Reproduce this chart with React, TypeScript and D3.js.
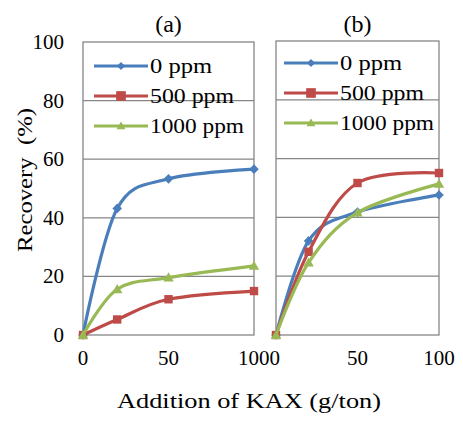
import React from "react";
import * as d3 from "d3";

const xValues = [0, 20, 50, 100];
const seriesNames = ["0 ppm", "500 ppm", "1000 ppm"];
const panelA0 = [0, 43.2, 53.3, 56.6];
const panelA500 = [0, 5.3, 12.2, 15.0];
const panelA1000 = [0, 15.6, 19.6, 23.6];
const panelB0 = [0, 32.0, 41.8, 47.6];
const panelB500 = [0, 28.3, 51.7, 55.1];
const panelB1000 = [0, 24.6, 41.6, 51.4];
const yTicks = [0, 20, 40, 60, 80, 100];
const xTicksA = [0, 50];
const xTicksB = [50, 100];
const colors = ["#4A7EBB", "#BE4B48", "#98B954"];
const markers = ["diamond", "square", "triangle"];
const legendWidths = [62, 84, 94];

const FS = { fontFamily: "Liberation Serif" };

function Marker({ type, x, y, color, s = 1 }: any) {
  if (type === "diamond") {
    const r = 4.8 * s;
    return <path d={`M${x},${y - r}L${x + r},${y}L${x},${y + r}L${x - r},${y}Z`} fill={color} />;
  }
  if (type === "square") {
    const r = 4.2 * s;
    return <rect x={x - r} y={y - r} width={2 * r} height={2 * r} fill={color} />;
  }
  const r = 5.2 * s;
  return <path d={`M${x},${y - r}L${x + r},${y + r * 0.75}L${x - r},${y + r * 0.75}Z`} fill={color} />;
}

function Panel({ x0, x1, yTop, title, data, ticks, legendX, legendY }: any) {
  const xs = d3.scaleLinear().domain([0, 100]).range([x0, x1]);
  const ys = d3.scaleLinear().domain([0, 100]).range([335, yTop]);
  const line = d3
    .line<number>()
    .x((_, i) => xs(xValues[i]))
    .y((d) => ys(d))
    .curve(d3.curveCardinal.tension(0));
  return (
    <g>
      {yTicks.slice(1, -1).map((t) => (
        <line key={t} x1={x0} x2={x1} y1={ys(t)} y2={ys(t)} stroke="#868686" strokeWidth={1.3} />
      ))}
      <rect x={x0} y={yTop} width={x1 - x0} height={335 - yTop} fill="none" stroke="#868686" strokeWidth={1.3} />
      <text x={(x0 + x1) / 2} y={32} textAnchor="middle" fontSize={24} style={FS}>
        {title}
      </text>
      {ticks.map((t: number) => (
        <text key={t} x={xs(t)} y={365} textAnchor="middle" fontSize={21} style={FS}>
          {t}
        </text>
      ))}
      {seriesNames.map((name, k) => (
        <g key={name}>
          <line x1={legendX} x2={legendX + 54} y1={legendY + k * 30} y2={legendY + k * 30} stroke={colors[k]} strokeWidth={3.2} />
          <Marker type={markers[k]} x={legendX + 27} y={legendY + k * 30} color={colors[k]} s={k === 1 ? 1.15 : 0.85} />
          <text
            x={legendX + 56}
            y={legendY + k * 30 + 7}
            fontSize={21}
            style={FS}
            textLength={legendWidths[k]}
            lengthAdjust="spacingAndGlyphs"
          >
            {name}
          </text>
        </g>
      ))}
      {data.map((vals: number[], k: number) => (
        <g key={k}>
          <path d={line(vals) || ""} fill="none" stroke={colors[k]} strokeWidth={3.2} />
          {vals.map((v, i) => (
            <Marker key={i} type={markers[k]} x={xs(xValues[i])} y={ys(v)} color={colors[k]} />
          ))}
        </g>
      ))}
    </g>
  );
}

export default function App() {
  const ys = d3.scaleLinear().domain([0, 100]).range([335, 42]);
  return (
    <svg width={463} height={422} style={{ position: "absolute", left: 0, top: 0, background: "#fff" }}>
      {yTicks.map((t) => (
        <text key={t} x={64} y={ys(t) + 7} textAnchor="end" fontSize={21} style={FS}>
          {t}
        </text>
      ))}
      <text
        transform="translate(32,180) rotate(-90)"
        textAnchor="middle"
        fontSize={21}
        style={{ ...FS, whiteSpace: "pre" }}
        textLength={144}
        lengthAdjust="spacingAndGlyphs"
      >
        Recovery  (%)
      </text>
      <Panel x0={83} x1={254} yTop={42} title="(a)" data={[panelA0, panelA500, panelA1000]} ticks={xTicksA} legendX={94} legendY={66} />
      <Panel x0={276} x1={439} yTop={41} title="(b)" data={[panelB0, panelB500, panelB1000]} ticks={xTicksB} legendX={284} legendY={63} />
      <text x={259} y={365} textAnchor="middle" fontSize={21} style={FS}>
        1000
      </text>
      <text
        x={249}
        y={408}
        textAnchor="middle"
        fontSize={21}
        style={FS}
        textLength={264}
        lengthAdjust="spacingAndGlyphs"
      >
        Addition of KAX (g/ton)
      </text>
    </svg>
  );
}
